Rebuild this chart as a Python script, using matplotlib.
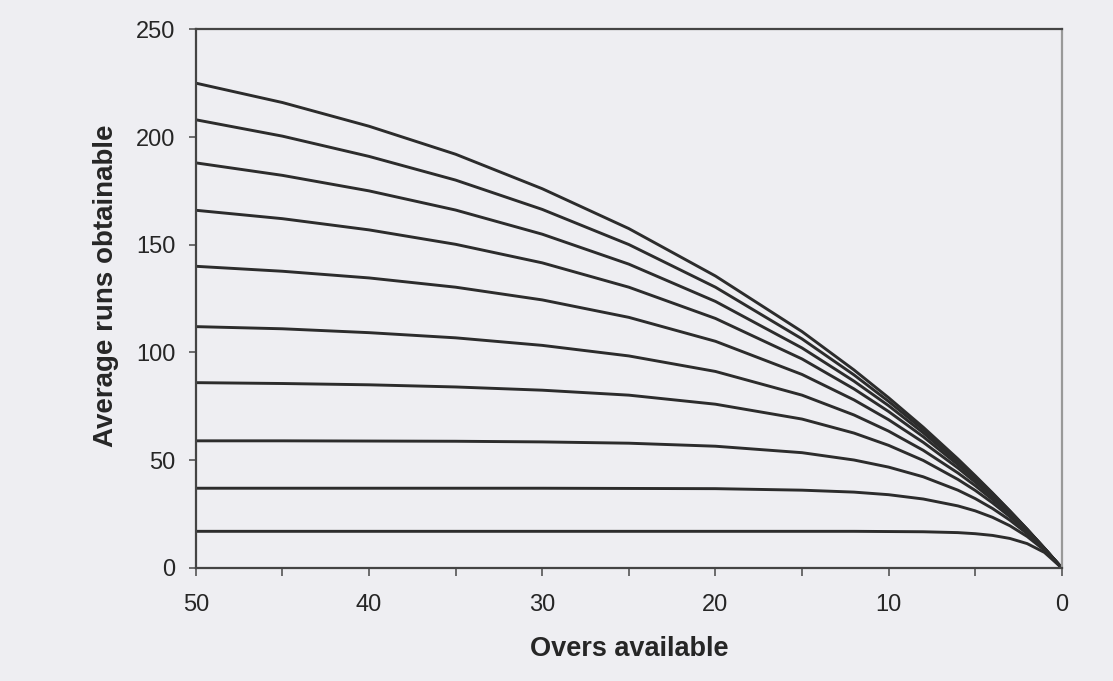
import numpy as np
import matplotlib
matplotlib.use("Agg")
import matplotlib.pyplot as plt

plt.rcParams["font.family"] = ["Liberation Sans", "DejaVu Sans"]

# overs available (x axis runs from 50 down to 0)
overs = [50, 45, 40, 35, 30, 25, 20, 15, 12, 10, 8, 6, 5, 4, 3, 2, 1, 0]

# average runs obtainable, one curve per number of wickets lost (0..9)
runs_w0 = [225, 216, 205, 192, 176, 157.5, 135.5, 109.7, 91.9, 79.0, 65.3, 50.6, 42.8, 34.8, 26.5, 18.0, 9.1, 0]
runs_w1 = [208, 200.4, 191, 180, 166.4, 150.1, 130.3, 106.3, 89.6, 77.3, 64.1, 49.9, 42.3, 34.5, 26.4, 17.9, 9.1, 0]
runs_w2 = [188, 182.2, 175, 166.1, 154.9, 141, 123.7, 102.1, 86.7, 75.3, 62.7, 49.0, 41.8, 34.1, 26.2, 17.8, 9.1, 0]
runs_w3 = [166, 162.1, 156.9, 150.2, 141.6, 130.3, 115.8, 97.0, 83.1, 72.6, 60.9, 47.9, 41.0, 33.6, 25.8, 17.7, 9.1, 0]
runs_w4 = [140, 137.7, 134.6, 130.3, 124.4, 116.3, 105.2, 89.8, 78.0, 68.8, 58.3, 46.4, 39.8, 32.8, 25.4, 17.5, 9.0, 0]
runs_w5 = [112, 111, 109.2, 106.8, 103.3, 98.4, 91.2, 80.2, 71.0, 63.5, 54.6, 44.1, 38.2, 31.7, 24.7, 17.2, 8.9, 0]
runs_w6 = [86, 85.6, 85.0, 84.0, 82.5, 80.2, 76.0, 69.1, 62.6, 56.9, 49.9, 41.1, 36.0, 30.2, 23.8, 16.7, 8.8, 0]
runs_w7 = [59, 59, 58.9, 58.8, 58.5, 57.9, 56.5, 53.5, 50.1, 46.8, 42.3, 36.1, 32.2, 27.6, 22.2, 15.9, 8.6, 0]
runs_w8 = [37, 37, 37, 37, 37, 36.9, 36.8, 36.1, 35.2, 34.0, 32.0, 28.8, 26.5, 23.5, 19.6, 14.6, 8.2, 0]
runs_w9 = [17, 17, 17, 17, 17, 17, 17, 17, 17, 16.9, 16.8, 16.4, 15.9, 15.1, 13.7, 11.3, 7.2, 0]

curves = [runs_w0, runs_w1, runs_w2, runs_w3, runs_w4,
          runs_w5, runs_w6, runs_w7, runs_w8, runs_w9]

bg = "#eeeef2"
ink = "#262626"

fig = plt.figure(figsize=(11.13, 6.81), dpi=100, facecolor=bg)
ax = fig.add_axes([0.176, 0.166, 0.778, 0.791])
ax.set_facecolor(bg)

for r in curves:
    ax.plot(overs, r, color="#2c2c2c", lw=2.1, solid_capstyle="round")

ax.set_xlim(50, 0)
ax.set_ylim(0, 250)
ax.set_xticks([50, 40, 30, 20, 10, 0])
ax.set_xticks([45, 35, 25, 15, 5], minor=True)
ax.set_yticks([0, 50, 100, 150, 200, 250])

ax.tick_params(axis="both", which="both", direction="out", colors="#555555",
               labelcolor=ink, labelsize=17, width=1.2)
ax.tick_params(axis="x", which="both", length=6, pad=13)
ax.tick_params(axis="y", length=5, pad=9.5)

for s in ["left", "bottom", "top"]:
    ax.spines[s].set_color("#444444")
    ax.spines[s].set_linewidth(1.6)
ax.spines["right"].set_color("#999999")
ax.spines["right"].set_linewidth(1.6)

ax.set_xlabel("Overs available", fontsize=19.5, fontweight="bold", color=ink, labelpad=14)
ax.set_ylabel("Average runs obtainable", fontsize=20, fontweight="bold", color=ink)
ax.yaxis.set_label_coords(-0.089, 0.523)

fig.savefig("out.png", dpi=100, facecolor=bg)
